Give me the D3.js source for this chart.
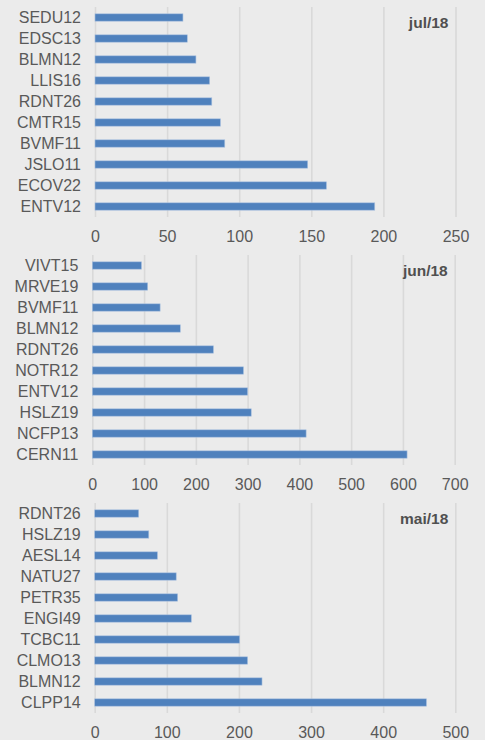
<!DOCTYPE html>
<meta charset="utf-8">
<style>
body {
  margin: 0;
  background: #ebebeb;
}
svg {
  display: block;
}
svg text {
  font-family: "Liberation Sans", Arial, sans-serif;
}
.grid line {
  stroke: #d9d9d9;
  stroke-width: 1.6px;
}
.grid path {
  display: none;
}
.axis path, .axis line {
  display: none;
}
.axis text {
  fill: #595959;
  font-size: 16px;
}
.bar {
  fill: #4f81bd;
  stroke: #a9c1df;
  stroke-width: 0.6px;
}
.title {
  fill: #505050;
  font-size: 15.5px;
  font-weight: bold;
}
</style>
<body>
<svg width="485" height="740"></svg>
<script src="https://cdn.jsdelivr.net/npm/d3@7"></script>
<script>
var julLabels = ["SEDU12", "EDSC13", "BLMN12", "LLIS16", "RDNT26", "CMTR15", "BVMF11", "JSLO11", "ECOV22", "ENTV12"];
var julValues = [61, 64, 70, 79.5, 81, 87, 90, 147.5, 160.5, 194];

var junLabels = ["VIVT15", "MRVE19", "BVMF11", "BLMN12", "RDNT26", "NOTR12", "ENTV12", "HSLZ19", "NCFP13", "CERN11"];
var junValues = [95, 107, 131, 170, 234, 292, 300, 307, 413, 608];

var maiLabels = ["RDNT26", "HSLZ19", "AESL14", "NATU27", "PETR35", "ENGI49", "TCBC11", "CLMO13", "BLMN12", "CLPP14"];
var maiValues = [61, 75, 87, 113, 115, 134, 201, 212, 232, 460];

var julTicks = [0, 50, 100, 150, 200, 250];
var junTicks = [0, 100, 200, 300, 400, 500, 600, 700];
var maiTicks = [0, 100, 200, 300, 400, 500];

var svg = d3.select("svg");

function panel(title, labels, values, ticks, box) {
  var g = svg.append("g");

  var x = d3.scaleLinear()
      .domain([0, ticks[ticks.length - 1]])
      .range([box.left, box.right]);

  var y = d3.scaleBand()
      .domain(labels)
      .range([box.top, box.bottom])
      .paddingInner(0.65)
      .paddingOuter(0.325);

  // vertical gridlines
  g.append("g")
      .attr("class", "grid")
      .attr("transform", "translate(0," + box.bottom + ")")
      .call(d3.axisBottom(x).tickValues(ticks).tickSize(-(box.bottom - box.top)).tickFormat(""));

  // value axis
  g.append("g")
      .attr("class", "axis")
      .attr("transform", "translate(0," + box.bottom + ")")
      .call(d3.axisBottom(x).tickValues(ticks).tickSize(0).tickPadding(14))
    .selectAll("text")
      .attr("dy", "0.71em");

  // category axis
  g.append("g")
      .attr("class", "axis")
      .attr("transform", "translate(" + box.left + ",0)")
      .call(d3.axisLeft(y).tickSize(0).tickPadding(14));

  g.selectAll(".bar")
    .data(values)
    .enter().append("rect")
      .attr("class", "bar")
      .attr("x", x(0))
      .attr("y", function(d, i) { return y(labels[i]); })
      .attr("width", function(d) { return x(d) - x(0); })
      .attr("height", y.bandwidth());

  g.append("text")
      .attr("class", "title")
      .attr("x", box.right - 7)
      .attr("y", box.top + 21)
      .attr("text-anchor", "end")
      .text(title);
}

panel("jul/18", julLabels, julValues, julTicks, {left: 95, right: 455.5, top: 7, bottom: 217});
panel("jun/18", junLabels, junValues, junTicks, {left: 92.3, right: 454.7, top: 255, bottom: 465});
panel("mai/18", maiLabels, maiValues, maiTicks, {left: 94.7, right: 455.3, top: 503, bottom: 713});
</script>
</body>
